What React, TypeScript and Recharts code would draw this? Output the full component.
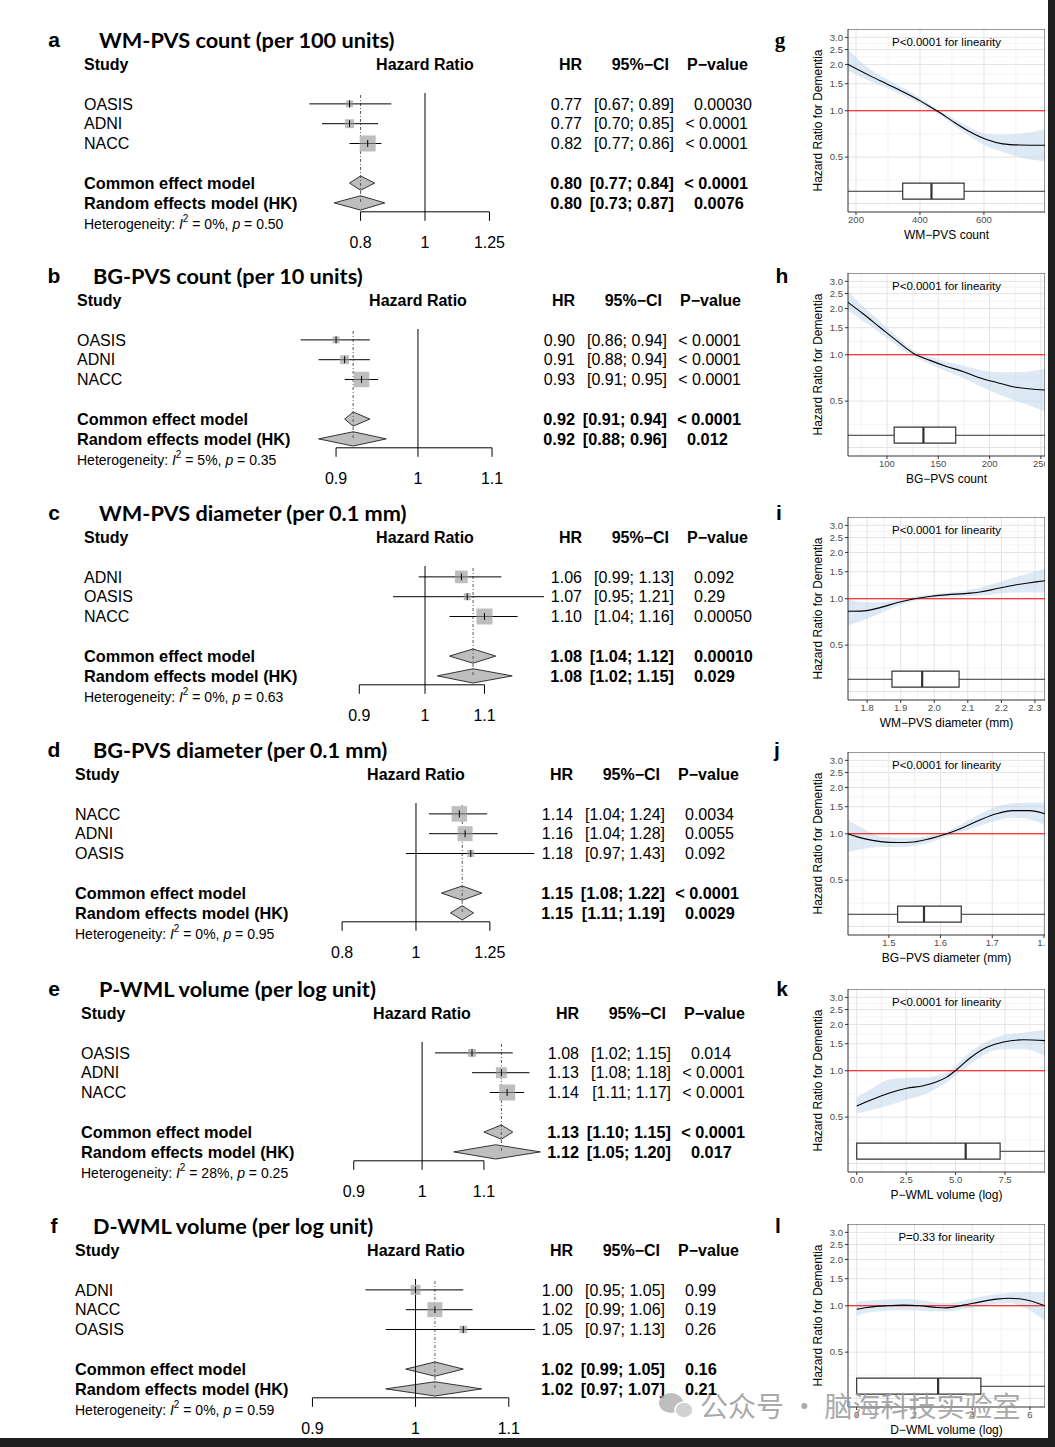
import React from 'react';
import {
  ComposedChart, XAxis, YAxis, Scatter, ErrorBar, Area, Line,
  ReferenceLine, ReferenceArea, CartesianGrid,
} from 'recharts';

// ---------- forest plots (a–f) ----------
// rows per panel: 3 studies, then common effect model, then random effects model (HK)
const forestTitles = [
  'WM-PVS count (per 100 units)',
  'BG-PVS count (per 10 units)',
  'WM-PVS diameter (per 0.1 mm)',
  'BG-PVS diameter (per 0.1 mm)',
  'P-WML volume (per log unit)',
  'D-WML volume (per log unit)',
];
const forestStudies = [
  ['OASIS', 'ADNI', 'NACC'],
  ['OASIS', 'ADNI', 'NACC'],
  ['ADNI', 'OASIS', 'NACC'],
  ['NACC', 'ADNI', 'OASIS'],
  ['OASIS', 'ADNI', 'NACC'],
  ['ADNI', 'NACC', 'OASIS'],
];
const forestHR = [
  [0.77, 0.77, 0.82, 0.80, 0.80],
  [0.90, 0.91, 0.93, 0.92, 0.92],
  [1.06, 1.07, 1.10, 1.08, 1.08],
  [1.14, 1.16, 1.18, 1.15, 1.15],
  [1.08, 1.13, 1.14, 1.13, 1.12],
  [1.00, 1.02, 1.05, 1.02, 1.02],
];
const forestLower = [
  [0.67, 0.70, 0.77, 0.77, 0.73],
  [0.86, 0.88, 0.91, 0.91, 0.88],
  [0.99, 0.95, 1.04, 1.04, 1.02],
  [1.04, 1.04, 0.97, 1.08, 1.11],
  [1.02, 1.08, 1.11, 1.10, 1.05],
  [0.95, 0.99, 0.97, 0.99, 0.97],
];
const forestUpper = [
  [0.89, 0.85, 0.86, 0.84, 0.87],
  [0.94, 0.94, 0.95, 0.94, 0.96],
  [1.13, 1.21, 1.16, 1.12, 1.15],
  [1.24, 1.28, 1.43, 1.22, 1.19],
  [1.15, 1.18, 1.17, 1.15, 1.20],
  [1.05, 1.06, 1.13, 1.05, 1.07],
];
const forestP = [
  ['0.00030', '< 0.0001', '< 0.0001', '< 0.0001', '0.0076'],
  ['< 0.0001', '< 0.0001', '< 0.0001', '< 0.0001', '0.012'],
  ['0.092', '0.29', '0.00050', '0.00010', '0.029'],
  ['0.0034', '0.0055', '0.092', '< 0.0001', '0.0029'],
  ['0.014', '< 0.0001', '< 0.0001', '< 0.0001', '0.017'],
  ['0.99', '0.19', '0.26', '0.16', '0.21'],
];
// study weights (%)
const forestWeight = [
  [12, 20, 64],
  [12, 20, 60],
  [40, 12, 64],
  [60, 56, 12],
  [16, 30, 64],
  [25, 56, 14],
];
const hetI2 = ['0%', '5%', '0%', '0%', '28%', '0%'];
const hetP = ['0.50', '0.35', '0.63', '0.95', '0.25', '0.59'];
const forestTicks = [
  [0.8, 1, 1.25],
  [0.9, 1, 1.1],
  [0.9, 1, 1.1],
  [0.8, 1, 1.25],
  [0.9, 1, 1.1],
  [0.9, 1, 1.1],
];

// ---------- spline plots (g–l) ----------
const splineXTitles = [
  'WM\u2212PVS count', 'BG\u2212PVS count', 'WM\u2212PVS diameter (mm)',
  'BG\u2212PVS diameter (mm)', 'P\u2212WML volume (log)', 'D\u2212WML volume (log)',
];
const linearityP = [
  'P<0.0001 for linearity', 'P<0.0001 for linearity', 'P<0.0001 for linearity',
  'P<0.0001 for linearity', 'P<0.0001 for linearity', 'P=0.33 for linearity',
];
const splineX = [
  [175, 246, 298, 350, 401, 442, 463, 504, 556, 608, 659, 711, 791],
  [62, 77, 93, 109, 126, 142, 158, 174, 190, 207, 223, 254],
  [1.743, 1.791, 1.841, 1.891, 1.941, 1.991, 2.041, 2.091, 2.141, 2.191, 2.241, 2.33],
  [1.421, 1.452, 1.484, 1.516, 1.548, 1.58, 1.612, 1.644, 1.676, 1.708, 1.74, 1.772, 1.802],
  [0, 0.84, 1.69, 2.53, 3.37, 4.05, 4.55, 5.06, 5.73, 6.58, 7.42, 8.43, 9.52],
  [0, 0.35, 1.04, 1.61, 2.19, 2.77, 3.11, 3.69, 4.27, 4.84, 5.3, 5.88, 6.52],
];
const splineHR = [
  [2.0, 1.68, 1.49, 1.32, 1.16, 1.03, 0.97, 0.85, 0.73, 0.65, 0.61, 0.6, 0.597],
  [2.19, 1.84, 1.51, 1.24, 1.02, 0.92, 0.84, 0.78, 0.71, 0.66, 0.62, 0.59],
  [0.83, 0.835, 0.88, 0.945, 1.0, 1.04, 1.065, 1.08, 1.11, 1.17, 1.23, 1.31],
  [1.0, 0.93, 0.89, 0.878, 0.885, 0.93, 1.0, 1.1, 1.23, 1.35, 1.415, 1.415, 1.35],
  [0.59, 0.655, 0.72, 0.77, 0.8, 0.85, 0.91, 1.02, 1.21, 1.42, 1.54, 1.59, 1.57],
  [0.95, 0.975, 1.0, 1.01, 1.0, 0.975, 0.97, 1.01, 1.06, 1.105, 1.12, 1.09, 1.0],
];
const splineLower = [
  [1.82, 1.55, 1.4, 1.25, 1.11, 0.99, 0.94, 0.81, 0.68, 0.59, 0.54, 0.5, 0.47],
  [1.94, 1.66, 1.39, 1.16, 0.97, 0.87, 0.78, 0.71, 0.63, 0.56, 0.51, 0.43],
  [0.67, 0.73, 0.81, 0.9, 0.97, 1.01, 1.03, 1.04, 1.05, 1.08, 1.1, 1.1],
  [0.76, 0.8, 0.82, 0.82, 0.83, 0.88, 0.96, 1.04, 1.13, 1.22, 1.27, 1.25, 1.13],
  [0.53, 0.56, 0.6, 0.65, 0.7, 0.77, 0.84, 0.95, 1.1, 1.3, 1.38, 1.38, 1.25],
  [0.86, 0.9, 0.93, 0.94, 0.93, 0.92, 0.92, 0.95, 0.99, 1.03, 1.04, 0.96, 0.8],
];
const splineUpper = [
  [2.5, 1.85, 1.6, 1.4, 1.21, 1.06, 1.0, 0.89, 0.78, 0.71, 0.7, 0.71, 0.76],
  [2.58, 2.05, 1.65, 1.33, 1.07, 0.97, 0.9, 0.85, 0.8, 0.77, 0.77, 0.81],
  [1.0, 0.95, 0.95, 0.99, 1.03, 1.07, 1.1, 1.13, 1.19, 1.28, 1.38, 1.56],
  [1.22, 1.07, 0.96, 0.94, 0.94, 0.98, 1.04, 1.17, 1.34, 1.5, 1.58, 1.6, 1.6],
  [0.67, 0.78, 0.88, 0.9, 0.9, 0.93, 0.98, 1.1, 1.32, 1.55, 1.7, 1.77, 1.85],
  [1.06, 1.08, 1.1, 1.11, 1.09, 1.05, 1.04, 1.08, 1.14, 1.19, 1.21, 1.23, 1.22],
];
// [min, Q1, median, Q3, max]
const boxStats = [
  [175, 346, 436, 538, 791],
  [62, 107, 135.5, 167, 254],
  [1.743, 1.874, 1.964, 2.074, 2.33],
  [1.421, 1.517, 1.568, 1.64, 1.802],
  [0, 0, 5.51, 7.25, 9.52],
  [0, 0, 2.82, 4.3, 6.52],
];
const splineDomain = [[175, 791], [62, 254], [1.743, 2.33], [1.421, 1.802], [-0.44, 9.52], [-0.3, 6.52]];
const splineTicks = [
  [200, 400, 600],
  [100, 150, 200, 250],
  [1.8, 1.9, 2.0, 2.1, 2.2, 2.3],
  [1.5, 1.6, 1.7, 1.8],
  [0, 2.5, 5, 7.5],
  [0, 2, 4, 6],
];
const splineTickDecimals = [0, 0, 1, 1, 1, 0];
const Y_TICKS = [0.5, 1, 1.5, 2, 2.5, 3];

// ---------- layout ----------
const SANS = '"Liberation Sans", Arial, Helvetica, sans-serif';
const RH = 19.8;
const ROW_POS = [0, 1, 2, 4, 5];
const FOREST_TOP = [104, 340, 577, 814, 1053, 1290];
const FOREST_DX = [0, -7, 0, -9, -3, -9];
const TITLE_X = [99, 93, 99, 93, 99, 93];
const FOREST_DOMAIN = [[0.66, 1.515], [0.857, 1.167], [0.825, 1.212], [0.696, 1.437], [0.831, 1.203], [0.885, 1.131]];
const SPLINE_TOP = [29, 273, 517, 752, 989, 1224];
const RIGHT_LETTER_X = [780, 782, 779, 777, 782, 778];
const BOX_Y = [0.267, 0.3, 0.339];

function StudyBox(props: any) {
  const { cx, cy, payload } = props;
  if (cx == null || cy == null) return null;
  const s = 2 * Math.sqrt(payload.w);
  return (
    <g>
      <rect x={cx - s / 2} y={cy - s / 2} width={s} height={s} fill="#bebebe" />
      <line x1={cx - s / 2} x2={cx + s / 2} y1={cy} y2={cy} stroke="#444" strokeWidth={0.8} />
      <line x1={cx} x2={cx} y1={cy - 3.5} y2={cy + 3.5} stroke="#000" strokeWidth={1} />
    </g>
  );
}

function ForestChart({ i }: { i: number }) {
  const hr = forestHR[i], lo = forestLower[i], hi = forestUpper[i];
  const ticks = forestTicks[i];
  const studies = forestStudies[i].map((_, k) => ({
    x: hr[k], y: ROW_POS[k], w: forestWeight[i][k], err: [hr[k] - lo[k], hi[k] - hr[k]],
  }));
  const diamond = (k: number) => [
    { x: lo[k], band: [ROW_POS[k], ROW_POS[k]] },
    { x: hr[k], band: [ROW_POS[k] - 0.36, ROW_POS[k] + 0.36] },
    { x: hi[k], band: [ROW_POS[k], ROW_POS[k]] },
  ];
  return (
    <div style={{ position: 'absolute', left: 425 + FOREST_DX[i] - 120, top: FOREST_TOP[i] - 0.55 * RH }}>
      <ComposedChart width={240} height={6 * RH + 40} margin={{ top: 0, right: 0, bottom: 0, left: 0 }}>
        <XAxis
          type="number" dataKey="x" scale="log" domain={FOREST_DOMAIN[i]} allowDataOverflow
          ticks={ticks} interval={0} axisLine={false} stroke="#000"
          tickLine={{ stroke: '#000' }} tickSize={9} tickMargin={16} height={40}
          tick={{ fontSize: 16, fill: '#000', fontFamily: SANS }}
        />
        <YAxis type="number" dataKey="y" domain={[-0.55, 5.45]} reversed hide allowDataOverflow />
        <ReferenceLine x={1} stroke="#000" ifOverflow="visible" />
        <ReferenceLine
          segment={[{ x: ticks[0], y: 5.45 }, { x: ticks[ticks.length - 1], y: 5.45 }]}
          stroke="#000" ifOverflow="visible"
        />
        <ReferenceLine
          segment={[{ x: hr[3], y: -0.45 }, { x: hr[3], y: 5 }]}
          stroke="#555" strokeDasharray="3 2 1 2" ifOverflow="visible"
        />
        <Area data={diamond(3)} dataKey="band" type="linear" fill="#bebebe" fillOpacity={1}
          stroke="#333" strokeWidth={1} dot={false} activeDot={false} isAnimationActive={false} />
        <Area data={diamond(4)} dataKey="band" type="linear" fill="#bebebe" fillOpacity={1}
          stroke="#333" strokeWidth={1} dot={false} activeDot={false} isAnimationActive={false} />
        <Scatter data={studies} shape={StudyBox} isAnimationActive={false}>
          <ErrorBar dataKey="err" direction="x" width={0} stroke="#000" strokeWidth={1} />
        </Scatter>
      </ComposedChart>
    </div>
  );
}

function ForestText({ i }: { i: number }) {
  const top = FOREST_TOP[i], dx = FOREST_DX[i];
  const y = (r: number) => top + r * RH;
  const labels = [...forestStudies[i], 'Common effect model', 'Random effects model (HK)'];
  return (
    <g fontFamily={SANS} fill="#000" dominantBaseline="central">
      <text x={54} y={y(-3.25)} fontSize={21} fontWeight="bold" textAnchor="middle">{'abcdef'[i]}</text>
      <text x={TITLE_X[i]} y={y(-3.25)} fontFamily="Lato" fontSize={21.7} fontWeight={700}>{forestTitles[i]}</text>
      <g fontSize={16} fontWeight="bold">
        <text x={84 + dx} y={y(-2)}>Study</text>
        <text x={425 + dx} y={y(-2)} textAnchor="middle">Hazard Ratio</text>
        <text x={582 + dx} y={y(-2)} textAnchor="end">HR</text>
        <text x={669 + dx} y={y(-2)} textAnchor="end">{'95%\u2212CI'}</text>
        <text x={748 + dx} y={y(-2)} textAnchor="end">{'P\u2212value'}</text>
      </g>
      {labels.map((lab, r) => {
        const ry = y(ROW_POS[r]);
        const p = forestP[i][r];
        const lt = p.startsWith('<');
        return (
          <g key={r} fontSize={r >= 3 ? 16.3 : 16} fontWeight={r >= 3 ? 'bold' : 'normal'}>
            <text x={84 + dx} y={ry}>{lab}</text>
            <text x={582 + dx} y={ry} textAnchor="end">{forestHR[i][r].toFixed(2)}</text>
            <text x={674 + dx} y={ry} textAnchor="end">
              {`[${forestLower[i][r].toFixed(2)}; ${forestUpper[i][r].toFixed(2)}]`}
            </text>
            <text x={lt ? 748 + dx : 694 + dx} y={ry} textAnchor={lt ? 'end' : 'start'}>{p}</text>
          </g>
        );
      })}
      <text x={84 + dx} y={y(6.05)} fontSize={14}>
        Heterogeneity: <tspan fontStyle="italic">I</tspan>
        <tspan fontSize={10} dy={-6}>2</tspan>
        <tspan dy={6}>{` = ${hetI2[i]}, `}</tspan>
        <tspan fontStyle="italic">p</tspan>
        <tspan>{` = ${hetP[i]}`}</tspan>
      </text>
    </g>
  );
}

function SplineChart({ i }: { i: number }) {
  const rows = splineX[i].map((x, k) => ({
    x, hr: splineHR[i][k], band: [splineLower[i][k], splineUpper[i][k]],
  }));
  const [mn, q1, med, q3, mx] = boxStats[i];
  const dom = splineDomain[i];
  const ticks = splineTicks[i];
  const step = ticks[1] - ticks[0];
  const minorX = [ticks[0] - step / 2, ...ticks.map((t) => t + step / 2)].filter((v) => v > dom[0] && v < dom[1]);
  const dec = splineTickDecimals[i];
  return (
    <div style={{ position: 'absolute', left: 770, top: SPLINE_TOP[i] }}>
      <ComposedChart width={275} height={203} data={rows} margin={{ top: 0, right: 0, bottom: 0, left: 0 }}>
        <CartesianGrid stroke="#f3f3f3" verticalValues={minorX} horizontalValues={[0.354, 0.707, 1.22, 1.73, 2.24, 2.74]} />
        <CartesianGrid stroke="#e4e4e4" verticalValues={ticks} horizontalValues={[0.25, 0.5, 1, 1.5, 2, 2.5, 3]} />
        <XAxis
          type="number" dataKey="x" domain={dom} allowDataOverflow ticks={ticks} interval={0}
          height={20} axisLine={false} tickSize={3} tickMargin={1} tickLine={{ stroke: '#333' }}
          tickFormatter={(v: number) => v.toFixed(dec)}
          tick={{ fontSize: 9.5, fill: '#4d4d4d', fontFamily: SANS }}
        />
        <YAxis
          type="number" scale="log" domain={[0.22, 3.4]} allowDataOverflow ticks={Y_TICKS} interval={0}
          width={78} axisLine={false} tickSize={3} tickMargin={2} tickLine={{ stroke: '#333' }}
          tickFormatter={(v: number) => v.toFixed(1)}
          tick={{ fontSize: 9.5, fill: '#4d4d4d', fontFamily: SANS }}
        />
        <Area dataKey="band" type="monotone" stroke="none" fill="#bcd4ec" fillOpacity={0.5}
          dot={false} activeDot={false} isAnimationActive={false} />
        <ReferenceLine y={1} stroke="#ff0000" strokeWidth={1.1} ifOverflow="visible" />
        <Line dataKey="hr" type="monotone" stroke="#000" strokeWidth={1.1} dot={false}
          activeDot={false} isAnimationActive={false} />
        <ReferenceLine segment={[{ x: mn, y: BOX_Y[1] }, { x: q1, y: BOX_Y[1] }]} stroke="#333" ifOverflow="visible" />
        <ReferenceLine segment={[{ x: q3, y: BOX_Y[1] }, { x: mx, y: BOX_Y[1] }]} stroke="#333" ifOverflow="visible" />
        <ReferenceArea x1={q1} x2={q3} y1={BOX_Y[0]} y2={BOX_Y[2]} fill="#fff" fillOpacity={1}
          stroke="#333" strokeWidth={1.2} ifOverflow="visible" />
        <ReferenceLine segment={[{ x: med, y: BOX_Y[0] }, { x: med, y: BOX_Y[2] }]} stroke="#333"
          strokeWidth={2.2} ifOverflow="visible" />
        <ReferenceArea x1={dom[0]} x2={dom[1]} y1={0.22} y2={3.4} fill="none" stroke="#333"
          strokeWidth={1} ifOverflow="visible" />
      </ComposedChart>
    </div>
  );
}

function SplineText({ i }: { i: number }) {
  const top = SPLINE_TOP[i];
  return (
    <g fontFamily={SANS} fill="#000" dominantBaseline="central">
      <text x={RIGHT_LETTER_X[i]} y={FOREST_TOP[i] - 3.25 * RH} fontSize={21} fontWeight="bold"
        textAnchor="middle" fontFamily={i === 0 ? '"Liberation Serif", serif' : SANS}>{'ghijkl'[i]}</text>
      <text x={946.5} y={top + 13} fontSize={11.5} textAnchor="middle">{linearityP[i]}</text>
      <text x={946.5} y={top + 206} fontSize={12} textAnchor="middle">{splineXTitles[i]}</text>
      <text transform={`translate(818, ${top + 91.5}) rotate(-90)`} fontSize={12} textAnchor="middle">
        Hazard Ratio for Dementia
      </text>
    </g>
  );
}

export default function App() {
  const idx = [0, 1, 2, 3, 4, 5];
  return (
    <div style={{ position: 'absolute', left: 0, top: 0, width: 1055, height: 1447, background: '#1e1e1e', overflow: 'hidden' }}>
      <div style={{ position: 'absolute', left: 0, top: 0, width: 1048, height: 1438, background: '#fff' }} />
      {idx.map((i) => <ForestChart key={`f${i}`} i={i} />)}
      {idx.map((i) => <SplineChart key={`s${i}`} i={i} />)}
      <svg width={1055} height={1447} style={{ position: 'absolute', left: 0, top: 0, pointerEvents: 'none' }}>
        {idx.map((i) => <ForestText key={`ft${i}`} i={i} />)}
        {idx.map((i) => <SplineText key={`st${i}`} i={i} />)}
        <g opacity={0.85}>
          <ellipse cx={671} cy={1403} rx={12} ry={10} fill="#b3b3b3" />
          <ellipse cx={684} cy={1410} rx={9} ry={8} fill="#c9c9c9" stroke="#fff" strokeWidth={1.5} />
          <text x={700} y={1405} fontSize={28} fill="#9b9b9b" dominantBaseline="central"
            fontFamily='"Noto Sans CJK SC", sans-serif'>{'公众号 · 脑海科技实验室'}</text>
        </g>
      </svg>
    </div>
  );
}
